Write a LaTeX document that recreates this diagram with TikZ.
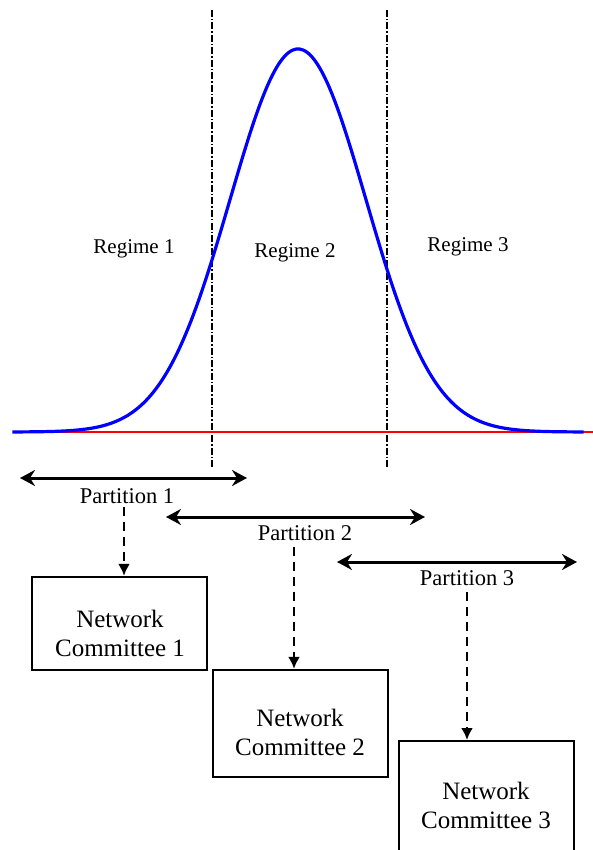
\documentclass[tikz,border=0pt]{standalone}
\usepackage{fontspec}
\setmainfont{Liberation Serif}
\usetikzlibrary{arrows.meta}
\begin{document}
\begin{tikzpicture}[x=1pt,y=-1pt,
  regime/.style={font=\fontsize{21}{25}\selectfont, inner sep=0pt},
  part/.style={font=\fontsize{22.5}{26}\selectfont, inner sep=1pt},
  cbox/.style={draw=black, line width=2.3pt, inner sep=0pt},
  cboxtext/.style={font=\fontsize{25}{29}\selectfont, align=center, inner sep=0pt},
  partarrow/.style={line width=3pt, {Stealth[length=15pt,width=16pt,inset=5pt]}-{Stealth[length=15pt,width=16pt,inset=5pt]}},
  feed/.style={line width=2.6pt, dash pattern=on 9pt off 6pt, -{Latex[length=12pt,width=12pt]}},
  regline/.style={line width=1.6pt, dash pattern=on 7pt off 2pt on 1.5pt off 2pt}
]
\useasboundingbox (0,0) rectangle (593,850);
\clip (0,0) rectangle (593,850);
% regime boundaries
\coordinate (v1t) at (212,10); \coordinate (v1b) at (212,467);
\coordinate (v2t) at (387,10); \coordinate (v2b) at (387,467);
\draw[regline] (v1t) -- (v1b);
\draw[regline] (v2t) -- (v2b);
% baseline
\coordinate (bl) at (14,432); \coordinate (br) at (593,432);
\draw[red, line width=1.2pt] (bl) -- (br);
% gaussian
\draw[blue, line width=3.2pt, line join=round] plot[domain=-4.2:4.2, samples=160, smooth] ({298+68*\x}, {432-383*exp(-\x*\x/2)});
% regime labels
\node[regime] (r1) at (134,249) {Regime 1};
\node[regime] (r2) at (295,253) {Regime 2};
\node[regime] (r3) at (468,247) {Regime 3};
% partitions
\coordinate (a1l) at (20,478); \coordinate (a1r) at (247,478);
\coordinate (a2l) at (166,517); \coordinate (a2r) at (425,517);
\coordinate (a3l) at (337,562); \coordinate (a3r) at (577,562);
\draw[partarrow] (a1l) -- (a1r);
\draw[partarrow] (a2l) -- (a2r);
\draw[partarrow] (a3l) -- (a3r);
\node[part] (p1) at (127,496) {Partition 1};
\node[part] (p2) at (305,533) {Partition 2};
\node[part] (p3) at (467,578) {Partition 3};
% committee boxes
\node[cbox, minimum width=175pt, minimum height=93pt] (b1) at (119.5,623.5) {};
\node[cbox, minimum width=175pt, minimum height=107pt] (b2) at (300.5,723.5) {};
\node[cbox, minimum width=175pt, minimum height=130pt, anchor=north] (b3) at (486.5,740) {};
\node[cboxtext] (t1) at (120,633) {Network\\Committee 1};
\node[cboxtext] (t2) at (300,732) {Network\\Committee 2};
\node[cboxtext] (t3) at (486,805) {Network\\Committee 3};
% feeds
\coordinate (f1) at (124,507); \coordinate (f2) at (294,547); \coordinate (f3) at (467,592);
\draw[feed] (f1) -- (f1 |- b1.north);
\draw[feed] (f2) -- (f2 |- b2.north);
\draw[feed] (f3) -- (f3 |- b3.north);
\end{tikzpicture}
\end{document}
